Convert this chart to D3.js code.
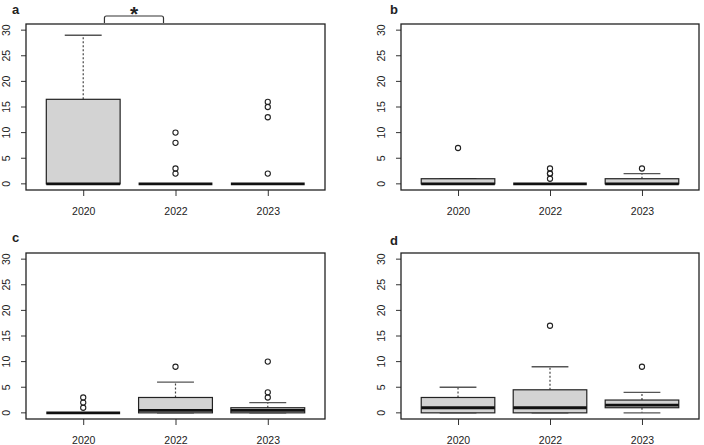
<!DOCTYPE html>
<html>
<head>
<meta charset="utf-8">
<script src="https://cdn.jsdelivr.net/npm/d3@7"></script>
<style>
  html, body { margin: 0; padding: 0; background: #fff; }
  svg { display: block; }
  text { font-family: "Liberation Sans", Arial, sans-serif; fill: #222; }
</style>
</head>
<body>
<svg id="chart" width="704" height="445"></svg>
<script>
// ---- data ----
const years = ["2020", "2022", "2023"];
const yTicks = [0, 5, 10, 15, 20, 25, 30];
const panelLabels = ["a", "b", "c", "d"];

// box stats per year: [lower whisker, Q1, median, Q3, upper whisker]
const statsA = [[0, 0, 0, 16.5, 29], [0, 0, 0, 0, 0], [0, 0, 0, 0, 0]];
const outliersA = [[], [2, 3, 8, 10], [2, 13, 15, 16]];

const statsB = [[0, 0, 0, 1, 1], [0, 0, 0, 0, 0], [0, 0, 0, 1, 2]];
const outliersB = [[7], [1, 2, 2, 3], [3]];

const statsC = [[0, 0, 0, 0, 0], [0, 0, 0.5, 3, 6], [0, 0, 0.5, 1, 2]];
const outliersC = [[1, 2, 3], [9], [3, 4, 10]];

const statsD = [[0, 0, 1, 3, 5], [0, 0, 1, 4.5, 9], [0, 1, 1.5, 2.5, 4]];
const outliersD = [[], [17], [9]];

const allStats = [statsA, statsB, statsC, statsD];
const allOutliers = [outliersA, outliersB, outliersC, outliersD];

// ---- layout ----
const frames = [
  { x0: 26, x1: 325, y0: 24, y1: 190, lx: 12, ly: 14 },
  { x0: 401, x1: 699, y0: 24, y1: 190, lx: 390, ly: 14 },
  { x0: 26, x1: 325, y0: 253, y1: 419, lx: 12, ly: 242 },
  { x0: 401, x1: 699, y0: 253, y1: 419, lx: 390, ly: 245 }
];

const svg = d3.select("#chart");

frames.forEach((f, pi) => {
  const g = svg.append("g");
  const x = d3.scaleLinear().domain([0.38, 3.62]).range([f.x0, f.x1]);
  const y = d3.scaleLinear().domain([-1.2, 31.2]).range([f.y1, f.y0]);
  const unit = x(2) - x(1);
  const bw = 0.8 * unit;
  const cw = 0.4 * unit;

  // panel label
  g.append("text").attr("x", f.lx).attr("y", f.ly)
    .attr("font-size", 13).attr("font-weight", "bold").text(panelLabels[pi]);

  // y axis
  const yAxis = d3.axisLeft(y).tickValues(yTicks).tickSize(5).tickPadding(0).tickFormat(d3.format("d"));
  const ya = g.append("g").attr("transform", `translate(${f.x0},0)`).call(yAxis);
  ya.select(".domain").remove();
  ya.selectAll("line").attr("stroke", "#333");
  ya.selectAll("text")
    .attr("font-size", 10.5)
    .attr("text-anchor", "middle")
    .attr("x", 0).attr("dy", 0)
    .attr("transform", d => `translate(${-16},${y(d)}) rotate(-90)`)
    .attr("y", 0)
    .style("font-family", "'Liberation Sans', Arial, sans-serif")
    .style("fill", "#222");
  ya.selectAll(".tick").attr("transform", null);
  ya.selectAll(".tick line").attr("y1", d => y(d)).attr("y2", d => y(d)).attr("x2", -5);

  // x axis
  const xAxis = d3.axisBottom(x).tickValues([1, 2, 3]).tickSize(6).tickPadding(12)
    .tickFormat((d) => years[d - 1]);
  const xa = g.append("g").attr("transform", `translate(0,${f.y1})`).call(xAxis);
  xa.select(".domain").remove();
  xa.selectAll("line").attr("stroke", "#333");
  xa.selectAll("text").attr("font-size", 10.5)
    .style("font-family", "'Liberation Sans', Arial, sans-serif").style("fill", "#222");

  // boxes
  const stats = allStats[pi];
  const outs = allOutliers[pi];
  stats.forEach((s, i) => {
    const cx = x(i + 1);
    const [lo, q1, med, q3, hi] = s;
    if (hi > q3) {
      g.append("line").attr("x1", cx).attr("x2", cx).attr("y1", y(q3)).attr("y2", y(hi))
        .attr("stroke", "#444").attr("stroke-dasharray", "2,2").attr("stroke-width", 1.2);
    }
    if (lo < q1) {
      g.append("line").attr("x1", cx).attr("x2", cx).attr("y1", y(q1)).attr("y2", y(lo))
        .attr("stroke", "#444").attr("stroke-dasharray", "2,2").attr("stroke-width", 1.2);
    }
    [lo, hi].forEach(v => {
      g.append("line").attr("x1", cx - cw / 2).attr("x2", cx + cw / 2)
        .attr("y1", y(v)).attr("y2", y(v)).attr("stroke", "#555").attr("stroke-width", 1.3);
    });
    g.append("rect").attr("x", cx - bw / 2).attr("width", bw)
      .attr("y", y(q3)).attr("height", Math.max(0, y(q1) - y(q3)))
      .attr("fill", "#d3d3d3").attr("stroke", "#222").attr("stroke-width", 1.2);
    g.append("line").attr("x1", cx - bw / 2).attr("x2", cx + bw / 2)
      .attr("y1", y(med)).attr("y2", y(med)).attr("stroke", "#111").attr("stroke-width", 2.8);
    outs[i].forEach(v => {
      g.append("circle").attr("cx", cx).attr("cy", y(v)).attr("r", 2.6)
        .attr("fill", "none").attr("stroke", "#222").attr("stroke-width", 1.1);
    });
  });

  // frame
  g.append("rect").attr("x", f.x0).attr("y", f.y0)
    .attr("width", f.x1 - f.x0).attr("height", f.y1 - f.y0)
    .attr("fill", "none").attr("stroke", "#222").attr("stroke-width", 1.3);

  // significance bracket in panel a
  if (pi === 0) {
    const bx0 = x(1.23), bx1 = x(1.87);
    g.append("path")
      .attr("d", `M${bx0},${f.y0 - 1}V${f.y0 - 6}Q${bx0},${f.y0 - 8} ${bx0 + 2},${f.y0 - 8}H${bx1 - 2}Q${bx1},${f.y0 - 8} ${bx1},${f.y0 - 6}V${f.y0 - 1}`)
      .attr("fill", "none").attr("stroke", "#333").attr("stroke-width", 1.2);
    g.append("text").attr("x", (bx0 + bx1) / 2).attr("y", 21)
      .attr("text-anchor", "middle").attr("font-size", 21).attr("font-weight", "bold").text("*");
  }
});
</script>
</body>
</html>
